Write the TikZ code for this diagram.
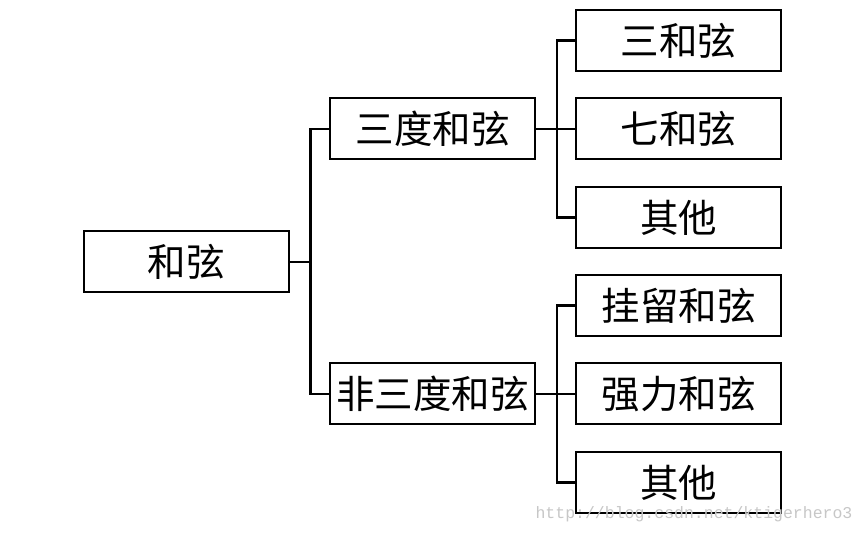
\documentclass[tikz,border=0pt]{standalone}
\usepackage{fontspec}
\newfontfamily\cjk{Noto Sans CJK SC}
\newfontfamily\wmfont{Liberation Mono}
\usepackage{tikz}
\usetikzlibrary{positioning}

\begin{document}
\begin{tikzpicture}[
        x=1pt, y=-1pt,
        node distance=88.5pt,
        every node/.style={font=\cjk\fontsize{38.5}{38.5}\selectfont},
        box/.style={
          draw,
          line width=2pt,
          rectangle,
          minimum width=205pt,
          minimum height=61pt,
          inner sep=0pt
        },
        link/.style={line width=2.2pt}
      ]
      \useasboundingbox (0,0) rectangle (865,534);

      % Nodos
      \node[box] (root) at (186,262) {和弦};
      \node[box] (m1) at (432.5,129) {三度和弦};
      \node[box] (m2) at (432.5,394) {非三度和弦};

      \node[box] (a2) at (678.5,129) {七和弦};
      \node[box, above of=a2] (a1) {三和弦};
      \node[box, below of=a2] (a3) {其他};

      \node[box] (b2) at (678.5,394) {强力和弦};
      \node[box, above of=b2] (b1) {挂留和弦};
      \node[box, below of=b2] (b3) {其他};

      % Conexiones
      \draw[link] (root.east) -- ++(21,0) |- (m1.west);
      \draw[link] (root.east) -- ++(21,0) |- (m2.west);

      \draw[link] (m1.east) -- ++(21,0) |- (a1.west);
      \draw[link] (m1.east) -- (a2.west);
      \draw[link] (m1.east) -- ++(21,0) |- (a3.west);

      \draw[link] (m2.east) -- ++(21,0) |- (b1.west);
      \draw[link] (m2.east) -- (b2.west);
      \draw[link] (m2.east) -- ++(21,0) |- (b3.west);

      % Marca de agua
      \node[font=\wmfont\fontsize{16.5}{16.5}\selectfont, text=black!22] (wm) at (694,514) {http://blog.csdn.net/ktigerhero3};

    \end{tikzpicture}
\end{document}
